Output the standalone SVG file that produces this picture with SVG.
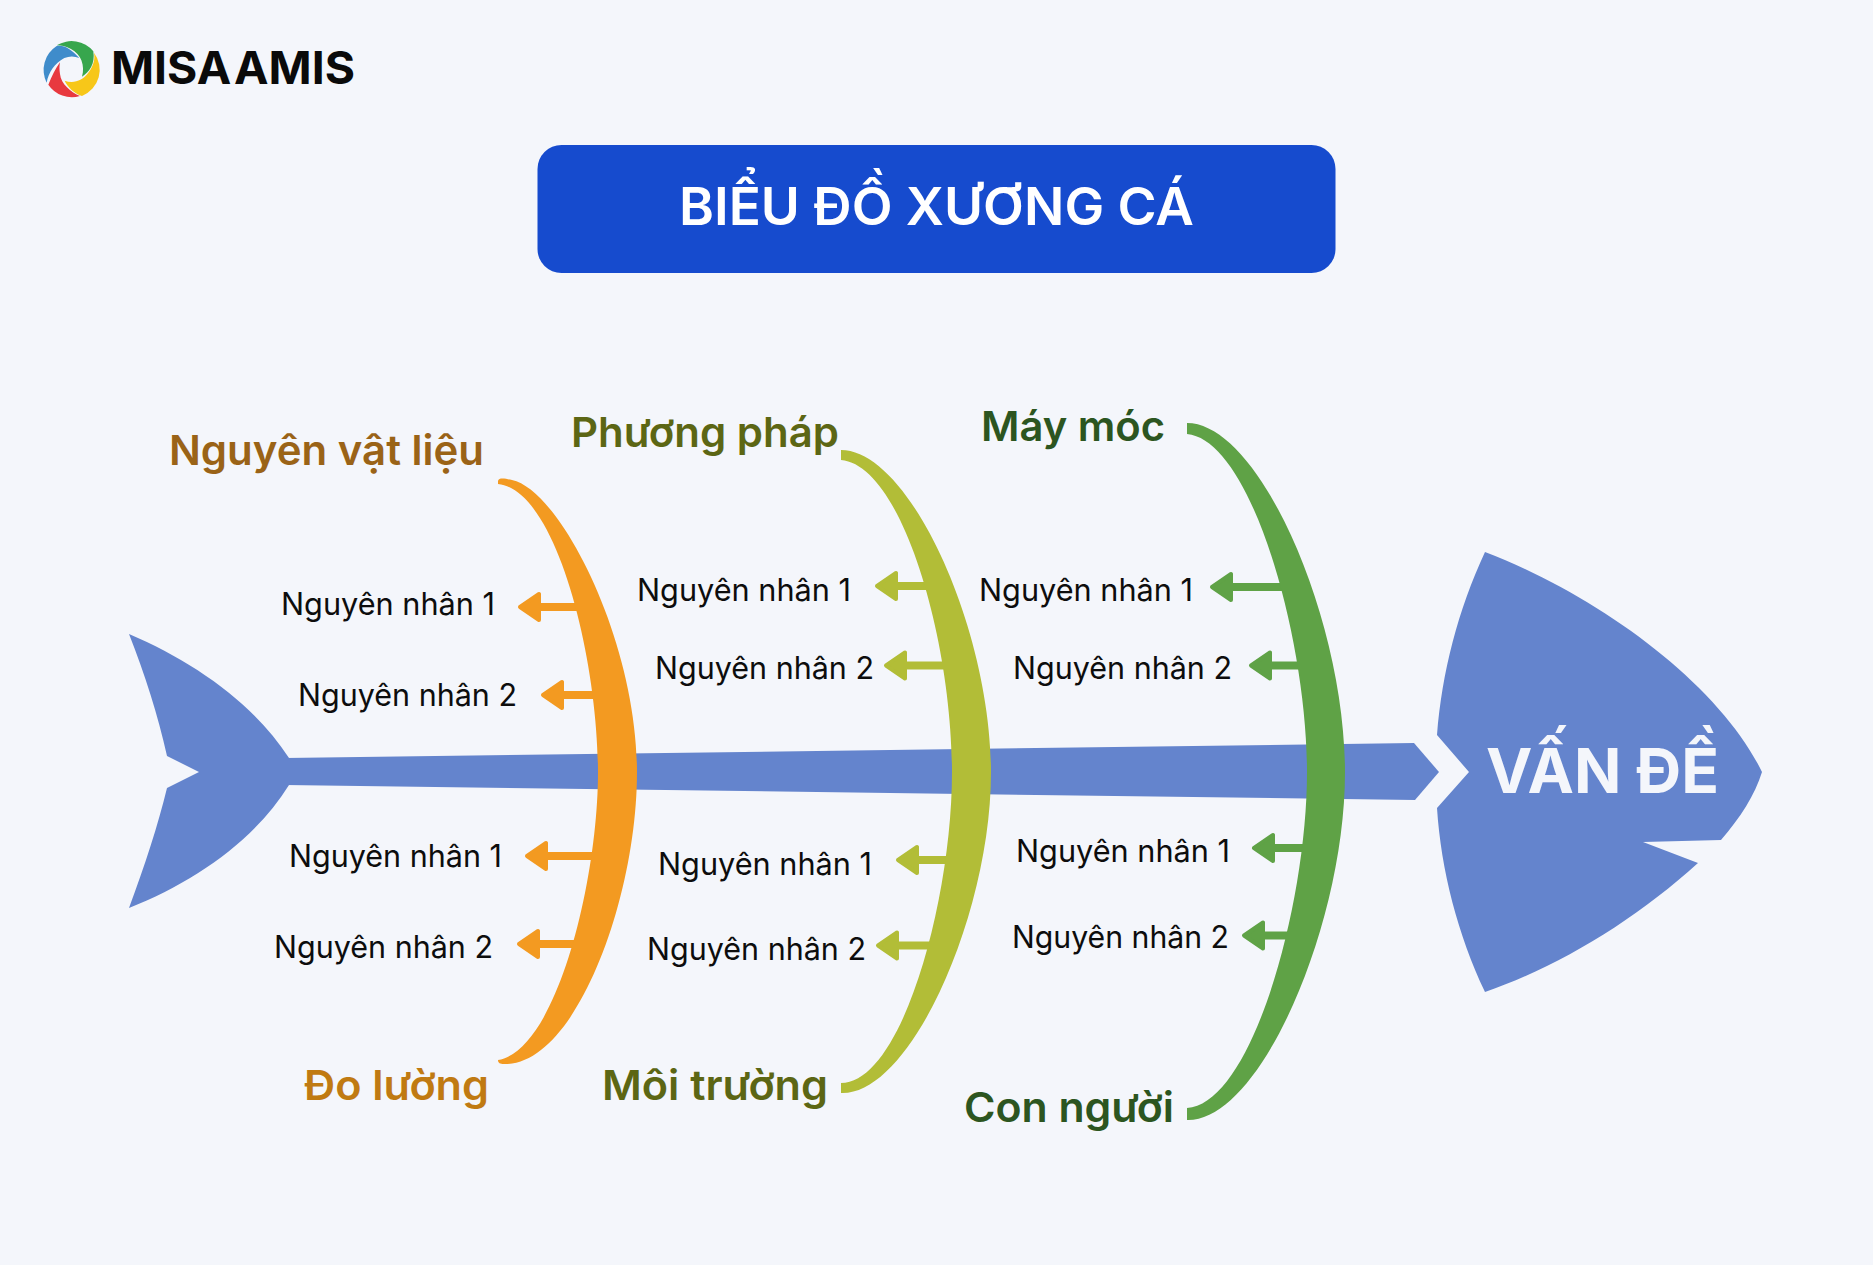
<svg xmlns="http://www.w3.org/2000/svg" width="1873" height="1265" viewBox="0 0 1873 1265">
<style>
text{font-family:"Inter","Noto Sans",sans-serif}
.fish{fill:#6484cd}
.c{font-size:31px;fill:#0d0d0d;font-weight:400}
.k{font-size:41px;font-weight:600}
.o1{fill:#9a6317}.o2{fill:#c07a12}.ol{fill:#5c6614}.gr{fill:#2c5520}
.la{stroke-width:8;fill:none}
.lo{stroke:#f39a21;marker-end:url(#ho)}
.ll{stroke:#b2bd37;marker-end:url(#hl)}
.lg{stroke:#5fa246;marker-end:url(#hg)}
</style>
<defs>
<marker id="ho" markerUnits="userSpaceOnUse" markerWidth="30" markerHeight="34" refX="24" refY="17" orient="0"><path d="M3,17L22,4V30Z" fill="#f39a21" stroke="#f39a21" stroke-width="4" stroke-linejoin="round"/></marker>
<marker id="hl" markerUnits="userSpaceOnUse" markerWidth="30" markerHeight="34" refX="24" refY="17" orient="0"><path d="M3,17L22,4V30Z" fill="#b2bd37" stroke="#b2bd37" stroke-width="4" stroke-linejoin="round"/></marker>
<marker id="hg" markerUnits="userSpaceOnUse" markerWidth="30" markerHeight="34" refX="24" refY="17" orient="0"><path d="M3,17L22,4V30Z" fill="#5fa246" stroke="#5fa246" stroke-width="4" stroke-linejoin="round"/></marker>
</defs>
<rect width="1873" height="1265" fill="#f4f6fb"/>

<g id="logo">
<g transform="translate(36 34) scale(.3333)">
<path fill="#37a64d" d="M62,34A85,85 0 0 1 172,52C178,90 160,115 138,128C148,95 135,60 105,45C90,37 75,34 62,34Z"/>
<path fill="#3f8ccb" d="M130,72C105,45 85,32 62,36A85,85 0 0 0 32,146C38,115 55,88 85,72C100,66 115,66 130,72Z"/>
<path fill="#e8393f" d="M72,85C58,105 48,125 37,152A85,85 0 0 0 132,186C105,175 75,150 72,120C70,108 70,95 72,85Z"/>
<path fill="#f7c719" d="M174,56A85,85 0 0 1 138,186C115,178 95,160 86,140C110,150 140,142 158,115C172,95 178,76 174,56Z"/>
</g>
<text x="111" y="84" font-size="45" font-weight="700" fill="#0a0a0a" word-spacing="-8" textLength="244" lengthAdjust="spacingAndGlyphs">MISA AMIS</text>
</g>

<g id="title">
<rect x="537.5" y="145" width="798" height="128" rx="24" fill="#164bce"/>
<text x="679" y="225" font-size="52" font-weight="600" fill="#fff" textLength="515" lengthAdjust="spacingAndGlyphs">BIỂU ĐỒ XƯƠNG CÁ</text>
</g>

<g id="tail"><path class="fish" d="M129,634C195,662 255,705 289,758V785C255,840 195,882 129,908C145,865 158,825 167,788L199,772L167,756C158,715 145,675 129,634Z"/></g>
<g id="spine"><path class="fish" d="M285,758L1414,743L1439,772L1415,800L285,785Z"/></g>
<g id="head">
<path class="fish" d="M1485,552C1600,596 1720,685 1762,772C1755,795 1740,818 1721,840L1643,842L1698,863C1635,920 1560,966 1485,992C1458,935 1441,870 1437,808L1469,772L1437,735C1442,672 1458,610 1485,552Z"/>
<text x="1486" y="793" font-size="62" font-weight="700" fill="#f4f6fb" textLength="233" lengthAdjust="spacingAndGlyphs">VẤN ĐỀ</text>
</g>

<g id="connectors">
<path class="la lo" d="M590,607H541"/>
<path class="la lo" d="M604,695H564"/>
<path class="la lo" d="M604,856H548"/>
<path class="la lo" d="M586,944H540"/>
<path class="la ll" d="M938,586H898"/>
<path class="la ll" d="M956,665.5H907"/>
<path class="la ll" d="M958,860H919"/>
<path class="la ll" d="M942,945.5H899"/>
<path class="la lg" d="M1294,587H1233"/>
<path class="la lg" d="M1310,665.5H1272"/>
<path class="la lg" d="M1314,848H1275"/>
<path class="la lg" d="M1300,935.5H1265"/>
</g>

<g id="rib-orange"><path fill="#f39a21" d="M498,481C499,477 506,479 512,480C560,490 637,640 637,772C637,900 575,1066 504,1064C500,1064 498,1063 498,1060C557,1050 598,880 598,772C598,660 557,490 498,484Z"/></g>
<g id="rib-olive"><path fill="#b2bd37" d="M841,450C910,450 991,630 991,772C991,915 910,1096 841,1093V1083C902,1083 952,900 952,772C952,640 902,465 841,460Z"/></g>
<g id="rib-green"><path fill="#5fa246" d="M1187,423C1260,423 1345,620 1345,772C1345,925 1260,1122 1187,1120V1108C1252,1104 1307,905 1307,772C1307,640 1252,440 1187,434Z"/></g>

<g id="labels-orange">
<text class="k o1" x="169" y="465" textLength="315" lengthAdjust="spacingAndGlyphs">Nguyên vật liệu</text>
<text class="k o2" x="304" y="1100" textLength="185" lengthAdjust="spacingAndGlyphs">Đo lường</text>
<text class="c" x="281" y="615" textLength="214" lengthAdjust="spacingAndGlyphs">Nguyên nhân 1</text>
<text class="c" x="298" y="706" textLength="219" lengthAdjust="spacingAndGlyphs">Nguyên nhân 2</text>
<text class="c" x="289" y="867" textLength="213" lengthAdjust="spacingAndGlyphs">Nguyên nhân 1</text>
<text class="c" x="274" y="958" textLength="219" lengthAdjust="spacingAndGlyphs">Nguyên nhân 2</text>
</g>
<g id="labels-olive">
<text class="k ol" x="571" y="447" textLength="268" lengthAdjust="spacingAndGlyphs">Phương pháp</text>
<text class="k ol" x="602" y="1100" textLength="226" lengthAdjust="spacingAndGlyphs">Môi trường</text>
<text class="c" x="637" y="601" textLength="214" lengthAdjust="spacingAndGlyphs">Nguyên nhân 1</text>
<text class="c" x="655" y="679" textLength="219" lengthAdjust="spacingAndGlyphs">Nguyên nhân 2</text>
<text class="c" x="658" y="875" textLength="214" lengthAdjust="spacingAndGlyphs">Nguyên nhân 1</text>
<text class="c" x="647" y="960" textLength="219" lengthAdjust="spacingAndGlyphs">Nguyên nhân 2</text>
</g>
<g id="labels-green">
<text class="k gr" x="981" y="441" textLength="184" lengthAdjust="spacingAndGlyphs">Máy móc</text>
<text class="k gr" x="964" y="1122" textLength="210" lengthAdjust="spacingAndGlyphs">Con người</text>
<text class="c" x="979" y="601" textLength="214" lengthAdjust="spacingAndGlyphs">Nguyên nhân 1</text>
<text class="c" x="1013" y="679" textLength="219" lengthAdjust="spacingAndGlyphs">Nguyên nhân 2</text>
<text class="c" x="1016" y="862" textLength="214" lengthAdjust="spacingAndGlyphs">Nguyên nhân 1</text>
<text class="c" x="1012" y="948" textLength="217" lengthAdjust="spacingAndGlyphs">Nguyên nhân 2</text>
</g>
</svg>
